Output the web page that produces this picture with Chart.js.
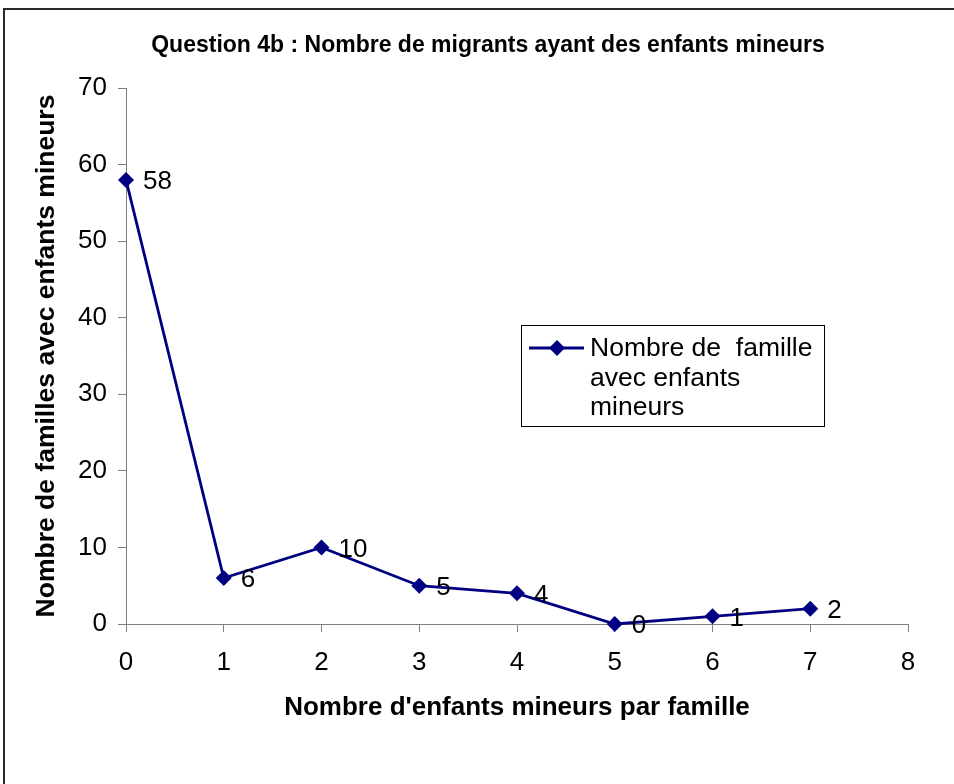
<!DOCTYPE html>
<html>
<head>
<meta charset="utf-8">
<script src="https://cdn.jsdelivr.net/npm/chart.js@4/dist/chart.umd.min.js"></script>
<style>
  html, body { margin: 0; padding: 0; background: #ffffff; }
  #wrap { position: relative; width: 954px; height: 784px; overflow: hidden; }
  #frame { position: absolute; left: 3px; top: 8px; width: 1000px; height: 1000px;
           border-top: 2px solid #2a2a2a; border-left: 2px solid #2a2a2a; pointer-events: none; }
  canvas { position: absolute; left: 0; top: 0; }
</style>
</head>
<body>
<div id="wrap">
  <canvas id="c" width="954" height="784"></canvas>
  <div id="frame"></div>
</div>
<script>
// ---- data ----
const childrenPerFamily = [0, 1, 2, 3, 4, 5, 6, 7];
const familyCounts = [58, 6, 10, 5, 4, 0, 1, 2];
const xTickValues = [0, 1, 2, 3, 4, 5, 6, 7, 8];
const yTickValues = [0, 10, 20, 30, 40, 50, 60, 70];
const chartTitle = 'Question 4b : Nombre de migrants ayant des enfants mineurs';
const xAxisTitle = "Nombre d'enfants mineurs par famille";
const yAxisTitle = 'Nombre de familles avec enfants mineurs';
const seriesLabel = 'Nombre de  famille avec enfants mineurs';
const legendLines = ['Nombre de  famille', 'avec enfants', 'mineurs'];

const FONT = "'Liberation Sans', Arial, sans-serif";
const NAVY = '#000080';
const AXIS_GREY = '#808080';

const points = childrenPerFamily.map((x, i) => ({ x: x, y: familyCounts[i] }));

const dataLabelPlugin = {
  id: 'dataLabels',
  afterDatasetsDraw(chart) {
    const ctx = chart.ctx;
    const meta = chart.getDatasetMeta(0);
    ctx.save();
    ctx.font = '26px ' + FONT;
    ctx.fillStyle = '#000000';
    ctx.textAlign = 'left';
    ctx.textBaseline = 'middle';
    meta.data.forEach((pt, i) => {
      ctx.fillText(String(familyCounts[i]), pt.x + 17, pt.y + 2);
    });
    ctx.restore();
  }
};

const boxLegendPlugin = {
  id: 'boxLegend',
  afterDraw(chart) {
    const ctx = chart.ctx;
    const ds = chart.data.datasets[0];
    ctx.save();
    ctx.fillStyle = '#ffffff';
    ctx.fillRect(522, 326, 302, 100);
    ctx.strokeStyle = '#000000';
    ctx.lineWidth = 1;
    ctx.strokeRect(521.5, 325.5, 303, 101);
    // line sample
    ctx.strokeStyle = ds.borderColor;
    ctx.lineWidth = ds.borderWidth;
    ctx.beginPath();
    ctx.moveTo(529, 348);
    ctx.lineTo(584, 348);
    ctx.stroke();
    // diamond marker
    ctx.fillStyle = ds.pointBackgroundColor;
    ctx.beginPath();
    ctx.moveTo(557, 340);
    ctx.lineTo(565, 348);
    ctx.lineTo(557, 356);
    ctx.lineTo(549, 348);
    ctx.closePath();
    ctx.fill();
    // text
    ctx.fillStyle = '#000000';
    ctx.font = '26.5px ' + FONT;
    ctx.textAlign = 'left';
    ctx.textBaseline = 'middle';
    const lineYs = [349, 379, 408];
    legendLines.forEach((t, i) => ctx.fillText(t, 590, lineYs[i]));
    ctx.restore();
  }
};

new Chart(document.getElementById('c'), {
  type: 'line',
  data: {
    datasets: [{
      label: seriesLabel,
      data: points,
      borderColor: NAVY,
      backgroundColor: NAVY,
      borderWidth: 2.8,
      pointStyle: 'rectRot',
      pointRadius: 8,
      pointBackgroundColor: NAVY,
      pointBorderColor: NAVY,
      pointBorderWidth: 0,
      tension: 0,
      fill: false,
      clip: false
    }]
  },
  options: {
    responsive: false,
    animation: false,
    devicePixelRatio: 1,
    layout: { padding: { left: 22, right: 0, top: 0, bottom: 0 } },
    plugins: {
      legend: { display: false },
      tooltip: { enabled: false },
      title: {
        display: true,
        text: chartTitle,
        color: '#000000',
        font: { family: FONT, size: 23, weight: 'bold', lineHeight: 1.2 },
        padding: { top: 32, bottom: 28.4 }
      }
    },
    scales: {
      x: {
        type: 'linear',
        position: 'bottom',
        min: 0,
        max: 8,
        afterBuildTicks: (s) => { s.ticks = xTickValues.map(v => ({ value: v })); },
        afterFit: (s) => { s.height = 160; },
        ticks: {
          color: '#000000',
          font: { family: FONT, size: 26 },
          padding: 15,
          maxRotation: 0,
          autoSkip: false
        },
        grid: {
          display: true,
          drawOnChartArea: false,
          drawTicks: true,
          tickLength: 8,
          color: AXIS_GREY,
          lineWidth: 1
        },
        border: { display: true, color: AXIS_GREY, width: 1 },
        title: {
          display: true,
          text: xAxisTitle,
          color: '#000000',
          font: { family: FONT, size: 26, weight: 'bold', lineHeight: 1.2 },
          padding: { top: 0, bottom: 60.4 }
        }
      },
      y: {
        type: 'linear',
        position: 'left',
        min: 0,
        max: 70,
        afterBuildTicks: (s) => { s.ticks = yTickValues.map(v => ({ value: v })); },
        afterFit: (s) => { s.width = 104; },
        ticks: {
          color: '#000000',
          font: { family: FONT, size: 26 },
          padding: 11
        },
        grid: {
          display: true,
          drawOnChartArea: false,
          drawTicks: true,
          tickLength: 8,
          color: AXIS_GREY,
          lineWidth: 1
        },
        border: { display: true, color: AXIS_GREY, width: 1 },
        title: {
          display: true,
          text: yAxisTitle,
          color: '#000000',
          font: { family: FONT, size: 26.5, weight: 'bold', lineHeight: 1.2 },
          padding: { top: 9.1, bottom: 0 }
        }
      },
      rightSpace: {
        type: 'linear',
        position: 'right',
        display: true,
        afterFit: (s) => { s.width = 46; },
        ticks: { display: false },
        grid: { display: false },
        border: { display: false }
      }
    }
  },
  plugins: [dataLabelPlugin, boxLegendPlugin]
});
</script>
</body>
</html>
